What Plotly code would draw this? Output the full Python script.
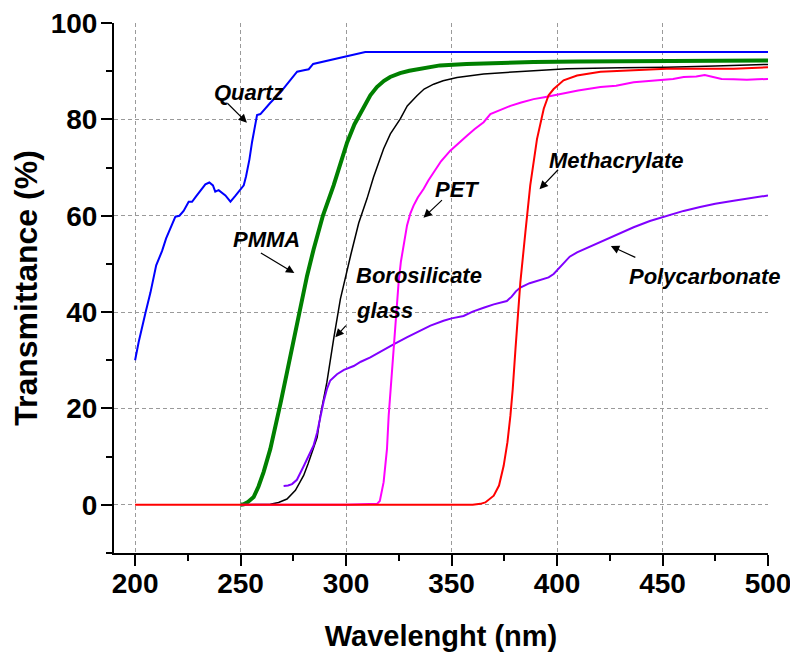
import plotly.graph_objects as go

# ---------------- data ----------------
quartz_x = [200, 201.7, 204.9, 207.3, 210, 212.8, 214.7, 219.1, 221, 223, 225.4, 227, 228.9,
            231.7, 233.3, 235.2, 236.9, 238, 239.6, 242.8, 245.2, 247.5, 249.4, 251.5, 252.6,
            254.2, 255.4, 257.8, 259.4, 264, 268.9, 272.5, 276.8, 280, 282.3, 284.4, 292,
            300.5, 305, 309.1, 350, 400, 450, 500]
quartz_y = [30, 33.8, 39.8, 44.1, 49.7, 52.7, 55.3, 59.8, 60, 61, 62.9, 62.9, 64,
            65.6, 66.5, 66.9, 66.3, 65, 65.3, 64.2, 62.9, 64.1, 65.2, 66.3, 68.2,
            71.7, 75.2, 80.9, 81.1, 83.4, 85.6, 87.6, 89.9, 90.2, 90.4, 91.5, 92.3,
            93.1, 93.6, 94, 94, 94, 94, 94]

pmma_x = [250, 251.5, 253.5, 256.2, 258.5, 260.9, 264.1, 266.5, 268.9, 272, 275.5, 278.3,
          281.5, 284.6, 289, 294.1, 300.5, 304, 308.3, 311.5, 314.6, 318, 320.9, 325.6,
          330, 335, 344.5, 357.1, 370, 388.8, 410, 440, 470, 500]
pmma_y = [0, 0.1, 0.6, 1.6, 3.8, 6.8, 11.6, 16, 21, 27.5, 35, 41.5,
          47.5, 53, 60, 66.3, 75.2, 79, 82.5, 85, 86.7, 88, 88.8, 89.6,
          90.1, 90.5, 91.2, 91.5, 91.7, 91.9, 92, 92, 92.1, 92.2]

boro_x = [250, 260, 264.1, 268, 272, 276, 279.9, 282, 284.6, 286.3, 287.8, 289, 290.9,
          294.1, 297.3, 302.3, 306, 309.9, 313, 317.8, 321, 325.7, 329, 333.6, 337,
          341.5, 346, 352.6, 365.2, 381, 404.7, 430, 452, 475, 500]
boro_y = [0, 0, 0.1, 0.5, 1.2, 3, 6.1, 8.5, 11.6, 14, 18.5, 21, 25.4,
          34.4, 42.7, 52, 58.5, 63.5, 68, 73.9, 77, 80.1, 82.8, 84.9, 86.3,
          87.3, 88, 88.7, 89.4, 89.9, 90.5, 90.7, 90.8, 91.1, 91.4]

pc_x = [270.4, 272.5, 274.4, 276.7, 279.9, 282, 284.6, 286.3, 287.8, 289.4, 290.9, 292.5,
        295.7, 299, 303.6, 307, 311.5, 317, 322.5, 329, 335.1, 340, 346.2, 350, 355.7,
        360, 365.2, 370, 376.2, 378.5, 380.5, 382.6, 387, 392.1, 396, 398.4, 400.5,
        403.1, 406, 409.5, 415, 420.6, 428, 436.3, 444, 452.1, 460, 467.8, 475, 483.7,
        492, 500]
pc_y = [3.9, 4, 4.3, 5.2, 8, 10, 12.3, 15, 18.5, 21.5, 24, 25.8,
        27.1, 28, 28.8, 29.7, 30.6, 32, 33.3, 34.8, 36.1, 37.2, 38.2, 38.7, 39.2,
        40.1, 40.9, 41.6, 42.3, 43.2, 44.3, 45.1, 46, 46.7, 47.2, 47.9, 48.9,
        50.3, 51.5, 52.4, 53.5, 54.5, 56, 57.6, 58.9, 60, 61, 61.8, 62.5, 63.1,
        63.7, 64.2]

pet_x = [250, 300, 314.7, 316, 317.8, 319.4, 320.2, 321.3, 322.5, 323.7, 324.9, 326,
         327.3, 328.9, 330.5, 332, 334, 336.8, 339, 341.5, 345, 349.4, 353, 357.3, 361,
         365.2, 368.4, 372, 377.9, 383, 388.9, 394, 400, 410, 420.6, 428, 436.3, 442,
         449, 455, 460, 466, 470, 474.2, 478, 483.7, 490, 495, 500]
pet_y = [0, 0, 0.2, 0.8, 4.7, 11.6, 18.5, 25, 32.3, 39, 46.1, 50.5,
         53.5, 58, 60.5, 62.1, 63.8, 65.6, 67.3, 69, 71.3, 73.5, 75, 76.6, 78,
         79.4, 81.1, 81.8, 82.8, 83.5, 84.2, 84.6, 85.1, 86, 86.7, 87, 87.7, 87.9,
         88.1, 88.4, 88.8, 88.9, 89.2, 88.8, 88.4, 88.3, 88.2, 88.3, 88.4]

meth_x = [200, 300, 360, 363.7, 366, 370, 372.5, 374.7, 376.5, 377.9, 379, 380.3, 381.5,
          382.6, 385, 387.3, 390.5, 393.7, 396, 398.4, 403.1, 409.5, 420.6, 436.3, 452,
          470, 483.7, 500]
meth_y = [0, 0, 0, 0.2, 0.5, 1.9, 4, 8.1, 13, 18.5, 24, 32.3, 39,
          46.1, 56.6, 66.3, 75.9, 82.2, 85, 86.3, 88.1, 89.1, 89.9, 90.2, 90.5,
          90.5, 90.5, 90.8]

series = [
    ("Quartz", quartz_x, quartz_y, "#0000FF", 2),
    ("PMMA", pmma_x, pmma_y, "#008000", 4),
    ("Borosilicate glass", boro_x, boro_y, "#000000", 1.5),
    ("Polycarbonate", pc_x, pc_y, "#8000FF", 2),
    ("PET", pet_x, pet_y, "#FF00FF", 2),
    ("Methacrylate", meth_x, meth_y, "#FF0000", 2),
]

# label text: (text, x, y, xanchor)
labels = [
    ("Quartz", 253.9, 85.6, "center"),
    ("PMMA", 262.3, 55.1, "center"),
    ("Borosilicate", 303.9, 47.5, "left"),
    ("glass", 303.9, 40.3, "left"),
    ("PET", 352.4, 65.5, "center"),
    ("Methacrylate", 428.2, 71.4, "center"),
    ("Polycarbonate", 470.2, 47.3, "center"),
]
# arrows: head (x, y) in data units, tail offset (ax, ay) in pixels
arrows = [
    (253.0, 79.3, -21, -21),
    (275.5, 48.1, -35, -21),
    (294.9, 34.8, 12, -13),
    (336.7, 59.6, 20, -19),
    (391.7, 65.5, 20, -21),
    (425.5, 53.7, 26, 12),
]

FONT = "Arial, Liberation Sans, sans-serif"

fig = go.Figure()
for name, xs, ys, col, w in series:
    fig.add_trace(go.Scatter(x=xs, y=ys, mode="lines", name=name,
                             line=dict(color=col, width=w), showlegend=False))

for txt, x, y, xa in labels:
    fig.add_annotation(x=x, y=y, text="<b><i>%s</i></b>" % txt, showarrow=False,
                       xanchor=xa, yanchor="middle",
                       font=dict(family=FONT, size=22, color="black"))

for hx, hy, ax, ay in arrows:
    fig.add_annotation(x=hx, y=hy, ax=ax, ay=ay, text="", showarrow=True,
                       arrowhead=2, arrowsize=1.4, arrowwidth=1.2, arrowcolor="black",
                       standoff=0, startstandoff=0)

axis_common = dict(
    showline=True, linecolor="black", linewidth=2,
    ticks="outside", ticklen=11, tickwidth=2, tickcolor="black",
    showgrid=True, gridcolor="#9a9a9a", gridwidth=1, griddash="4px,3px",
    zeroline=False, automargin=False, ticklabeloverflow="allow",
    tickfont=dict(family=FONT, size=28, color="black", weight="bold"),
)

fig.update_xaxes(range=[190, 500], tick0=200, dtick=50, ticklabelstandoff=-7,
                 minor=dict(ticks="outside", ticklen=6, tickwidth=2, tickcolor="black",
                            dtick=25, tick0=200, showgrid=False),
                 title=dict(text="<b>Wavelenght (nm)</b>",
                            font=dict(family=FONT, size=29, color="black"), standoff=28),
                 **axis_common)
fig.update_yaxes(range=[-10, 100], tick0=0, dtick=20, ticklabelstandoff=-2,
                 minor=dict(ticks="outside", ticklen=6, tickwidth=2, tickcolor="black",
                            dtick=10, tick0=0, showgrid=False),
                 title=dict(text="<b>Transmittance (%)</b>",
                            font=dict(family=FONT, size=32, color="black"), standoff=20),
                 **axis_common)

# the page adds an 8px body margin, so the figure is 8px smaller and offsets reduced
fig.update_layout(width=790, height=647, plot_bgcolor="white", paper_bgcolor="white",
                  margin=dict(l=106, r=30, t=15, b=102), showlegend=False)

fig.write_html("out.html")
